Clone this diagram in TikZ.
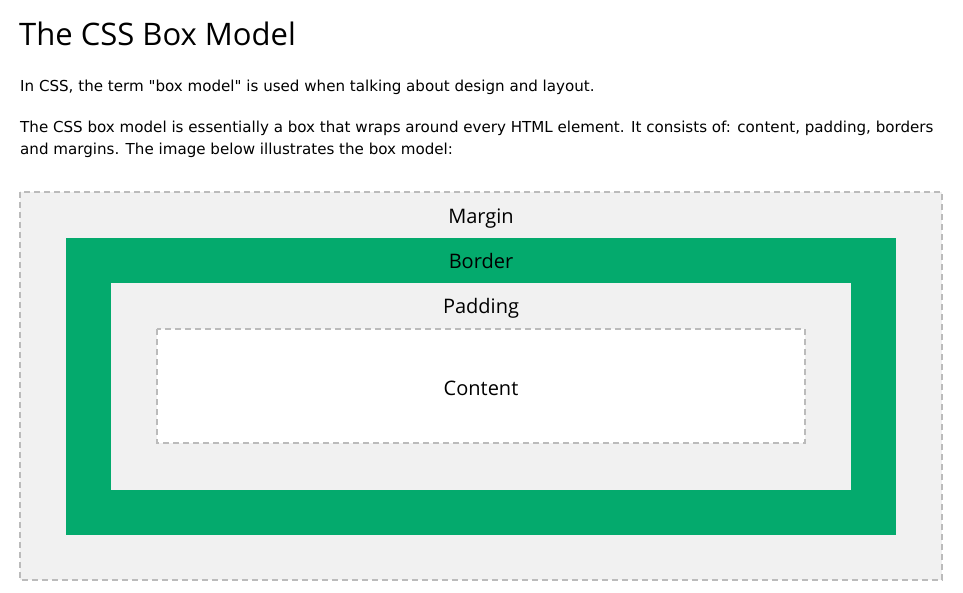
\documentclass[tikz,border=0pt]{standalone}
\usepackage{fontspec}
\setmainfont{DejaVu Sans}[Ligatures=TeXOff]
\newfontfamily\labelfont{Open Sans}
\usetikzlibrary{positioning}
\definecolor{boxgreen}{HTML}{04AA6D}
\definecolor{margingray}{HTML}{F1F1F1}
\definecolor{dashgray}{HTML}{BBBBBB}

\tikzset{dashbox/.style={draw=dashgray, line width=2pt, dash pattern=on 6pt off 4pt},
         boxlabel/.style={font=\labelfont\fontsize{20}{24}\selectfont, anchor=base},
         bodytext/.style={font=\fontsize{15.1}{18}\selectfont, anchor=base west}}

\begin{document}
\begin{tikzpicture}[x=1pt, y=-1pt, every node/.style={inner sep=0pt}]
    \useasboundingbox[fill=white] (0, 0) rectangle (963, 593);

    % heading and text
    \node [font=\labelfont\fontsize{31}{37}\selectfont, anchor=base west] (title) at (19, 46) {The CSS Box Model};
    \node [bodytext] (intro) at (20, 92) {In CSS, the term "box model" is used when talking about design and layout.};
    \node [bodytext] (descA) at (20, 133) {The CSS box model is essentially a box that wraps around every HTML element. It consists of: content, padding, borders};
    \node [bodytext] (descB) at (20, 155) {and margins. The image below illustrates the box model:};

    % the boxes
    \draw [dashbox, fill=margingray] (20, 192) rectangle (942, 580);
    \fill [boxgreen] (66, 238) rectangle (896, 535);
    \fill [margingray] (111, 283) rectangle (851, 490);
    \draw [dashbox, fill=white] (157, 329) rectangle (805, 443);

    \node [boxlabel] (margin) at (481, 224) {Margin};
    \node [boxlabel] (border) at (481, 269) {Border};
    \node [boxlabel] (padding) at (481, 314) {Padding};
    \node [boxlabel] (content) at (481, 395) {Content};
\end{tikzpicture}
\end{document}
